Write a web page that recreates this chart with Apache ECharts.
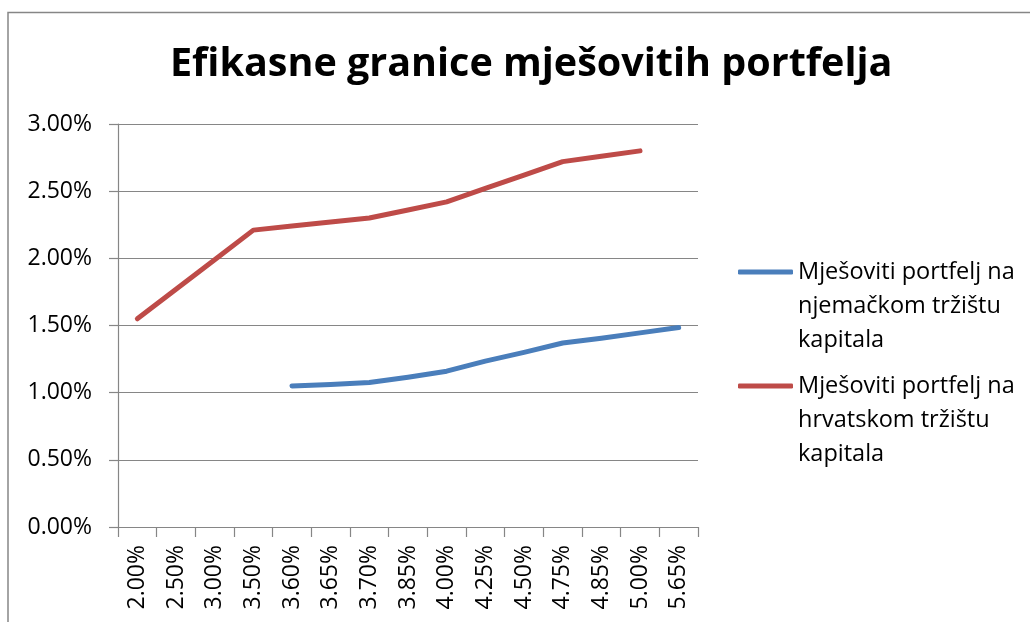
<!DOCTYPE html>
<html>
<head>
<meta charset="utf-8">
<script src="https://cdn.jsdelivr.net/npm/echarts@6/dist/echarts.min.js"></script>
<style>
  html, body { margin: 0; padding: 0; background: #fff; }
  #chart { width: 1030px; height: 622px; }
</style>
</head>
<body>
<div id="chart"></div>
<script>
var categories = ['2.00%', '2.50%', '3.00%', '3.50%', '3.60%', '3.65%', '3.70%', '3.85%', '4.00%', '4.25%', '4.50%', '4.75%', '4.85%', '5.00%', '5.65%']
// vrijednosti u postocima
var njemacko = [null, null, null, null, 1.05, 1.06, 1.075, 1.115, 1.16, 1.235, 1.30, 1.37, 1.405, 1.445, 1.485]
var hrvatsko = [1.55, 1.77, 1.99, 2.21, 2.24, 2.27, 2.30, 2.36, 2.42, 2.52, 2.62, 2.72, 2.76, 2.80, null]
var yTicks = { min: 0, max: 3, interval: 0.5 }
var names = ['Mješoviti portfelj na\nnjemačkom tržištu\nkapitala', 'Mješoviti portfelj na\nhrvatskom tržištu\nkapitala']

var font = 'Open Sans'
var gray = '#868686'

var mychart = echarts.init(document.getElementById('chart'))

function legendBox(name, top) {
  return {
    data: [name],
    orient: 'vertical',
    left: 738,
    top: top,
    padding: 0,
    itemWidth: 55,
    itemHeight: 5,
    icon: 'roundRect',
    selectedMode: false,
    // dvije prazne linije gore da ikona stoji uz prvi red teksta
    formatter: function(n) {
      return '\n\n' + n
    },
    textStyle: {
      fontFamily: font,
      fontSize: 23.5,
      lineHeight: 34,
      color: '#000'
    }
  }
}

var option = {
  animation: false,
  backgroundColor: '#fff',
  title: {
    text: 'Efikasne granice mješovitih portfelja',
    left: 165,
    top: 40,
    textStyle: {
      fontFamily: font,
      fontWeight: 'bold',
      fontSize: 39.5,
      color: '#000'
    }
  },
  legend: [legendBox(names[0], 187), legendBox(names[1], 301)],
  grid: {
    left: 118,
    right: 332,
    top: 124,
    bottom: 95,
    containLabel: false
  },
  xAxis: {
    type: 'category',
    data: categories,
    boundaryGap: true,
    axisLine: { lineStyle: { color: gray, width: 1.2 } },
    axisTick: { show: true, length: 10, alignWithLabel: false, lineStyle: { color: gray, width: 1.2 } },
    axisLabel: {
      rotate: 90,
      margin: 18,
      interval: 0,
      fontFamily: font,
      fontSize: 23,
      color: '#000'
    }
  },
  yAxis: {
    type: 'value',
    min: yTicks.min,
    max: yTicks.max,
    interval: yTicks.interval,
    axisLine: { show: true, lineStyle: { color: gray, width: 1.2 } },
    axisTick: { show: true, length: 9, lineStyle: { color: gray, width: 1.2 } },
    splitLine: { lineStyle: { color: gray, width: 1.2 } },
    axisLabel: {
      margin: 26,
      fontFamily: font,
      fontSize: 23,
      color: '#000',
      formatter: function(v) {
        return v.toFixed(2) + '%'
      }
    }
  },
  series: [
    {
      name: names[0],
      type: 'line',
      data: njemacko,
      showSymbol: false,
      symbol: 'none',
      color: '#4a7ebb',
      lineStyle: { width: 5, color: '#4a7ebb', cap: 'round', join: 'round' }
    },
    {
      name: names[1],
      type: 'line',
      data: hrvatsko,
      showSymbol: false,
      symbol: 'none',
      color: '#be4b48',
      lineStyle: { width: 5, color: '#be4b48', cap: 'round', join: 'round' }
    }
  ],
  graphic: [
    {
      // okvir grafikona
      type: 'polyline',
      silent: true,
      shape: { points: [[8, 640], [8, 12.5], [1040, 12.5]] },
      style: { stroke: gray, lineWidth: 1.5, fill: null }
    }
  ]
}

mychart.setOption(option)
</script>
</body>
</html>
